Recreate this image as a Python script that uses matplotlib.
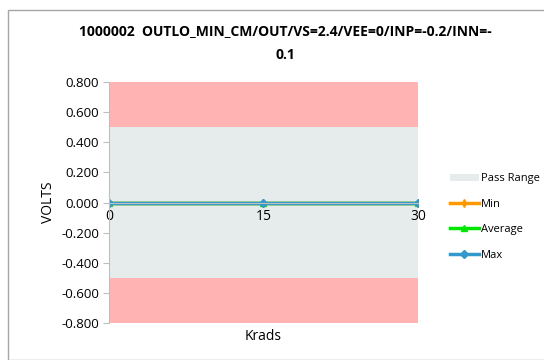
import matplotlib
matplotlib.use("Agg")
import matplotlib.pyplot as plt
from matplotlib.patches import Rectangle

# data
krads = [0, 15, 30]
min_vals = [0.0, 0.0, 0.0]
avg_vals = [0.0, 0.0, 0.0]
max_vals = [0.0, 0.0, 0.0]
pass_low, pass_high = -0.5, 0.5
y_low, y_high = -0.8, 0.8
y_ticks = [-0.8, -0.6, -0.4, -0.2, 0.0, 0.2, 0.4, 0.6, 0.8]
title = "1000002  OUTLO_MIN_CM/OUT/VS=2.4/VEE=0/INP=-0.2/INN=-\n0.1"

plt.rcParams["font.family"] = ["Open Sans", "DejaVu Sans"]

fig = plt.figure(figsize=(5.44, 3.6), dpi=100)
fig.patches.append(Rectangle((8 / 544, 0), 1, 1 - 10 / 360, transform=fig.transFigure,
                             fill=False, edgecolor="#A6A6A6", linewidth=1.0))
ax = fig.add_axes([109 / 544, 1 - 323 / 360, 309 / 544, 241 / 360])

# bands
ax.fill_between(krads, y_low, pass_low, color="#FFB3B3", linewidth=0)
ax.fill_between(krads, pass_low, pass_high, color="#E6EBEB", linewidth=0, label="Pass Range")
ax.fill_between(krads, pass_high, y_high, color="#FFB3B3", linewidth=0)

ax.plot(krads, min_vals, color="#FF9900", marker="d", markersize=4, linewidth=2.5, label="Min")
ax.plot(krads, avg_vals, color="#00E600", marker="^", markersize=5, linewidth=2.5, label="Average")
ax.plot(krads, max_vals, color="#3399CC", marker="D", markersize=4, linewidth=2.5, label="Max")

ax.set_xlim(krads[0], krads[-1])
ax.set_ylim(y_low, y_high)
ax.set_yticks(y_ticks)
ax.set_yticklabels([f"{v:.3f}" for v in y_ticks], fontsize=9.5)
ax.set_xticks(krads)
ax.set_xticklabels([str(k) for k in krads], fontsize=8)
ax.spines["bottom"].set_position(("data", 0))
ax.spines["bottom"].set_color("#BFBFBF")
ax.spines["left"].set_color("#BFBFBF")
ax.spines["top"].set_visible(False)
ax.spines["right"].set_visible(False)
ax.tick_params(axis="y", length=4, color="#BFBFBF", pad=3)
ax.tick_params(axis="x", length=0, pad=5)

ax.set_ylabel("VOLTS", fontsize=10, labelpad=4)
ax.set_xlabel("Krads", fontsize=10)
ax.xaxis.set_label_coords(0.5, -0.025)

fig.text(0.525, 1 - 43 / 360, title, ha="center", va="center", fontsize=10,
         fontweight="bold", linespacing=1.85)

ax.legend(loc="center left", bbox_to_anchor=(1.07, 0.44), frameon=False, fontsize=8,
          handlelength=2.6, labelspacing=1.3, handletextpad=0.2)

fig.savefig("out.png", dpi=100)
